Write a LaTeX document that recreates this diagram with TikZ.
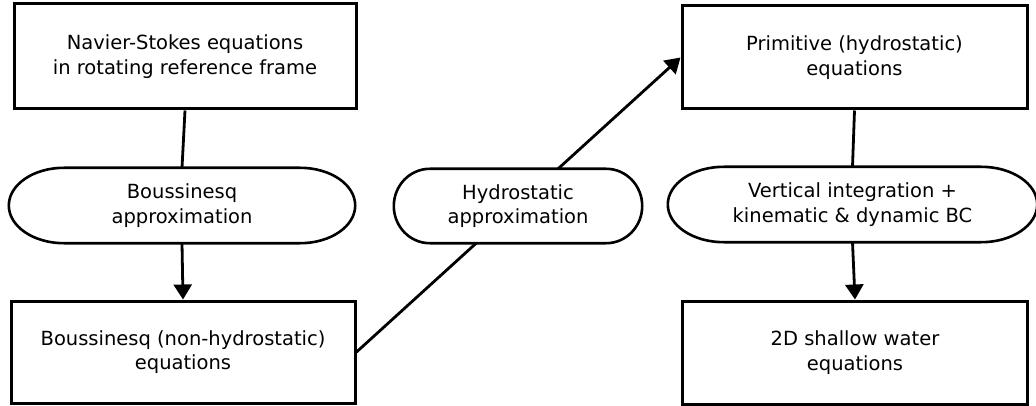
\documentclass[tikz,border=0pt]{standalone}
\usepackage{fontspec}
\setmainfont{DejaVu Sans}
\usetikzlibrary{arrows.meta,calc,backgrounds}

% Outline of a terminal (stadium) shape around a node, with elliptical ends
\newcommand\stadiumoutline[2]{% #1 node name, #2 horizontal radius of the ends
  \path[ovalline] let \p1=(#1.north west), \p2=(#1.south east), \n1={(\y1-\y2)/2} in
    (\x1+#2,\y1) -- (\x2-#2,\y1)
    arc[start angle=90,end angle=-90,x radius=#2,y radius=\n1]
    -- (\x1+#2,\y2)
    arc[start angle=270,end angle=90,x radius=#2,y radius=\n1] -- cycle;}

\tikzset{
  every node/.style={font=\fontsize{19.5}{24.5}\selectfont, align=center, inner sep=0pt},
  eqbox/.style={draw, line width=3pt, minimum width=#1, rectangle},
  eqbox/.default=344pt,
  ovaltext/.style={rectangle, draw=none},
  ovalline/.style={draw, fill=white, line width=2.6pt},
  link/.style={line width=2.8pt},
  arrowlink/.style={link, -{Triangle[length=15pt,width=18pt]}}
}

\begin{document}
\begin{tikzpicture}[x=1pt,y=-1pt]
  \useasboundingbox (0,0) rectangle (1036,406);

  % equation boxes
  \node[eqbox=342pt, minimum height=105pt] (ns) at (185,56.5)
    {Navier-Stokes equations\\in rotating reference frame};
  \node[eqbox=344pt, minimum height=102pt] (bq) at (183,352)
    {Boussinesq (non-hydrostatic)\\equations};
  \node[eqbox=345pt, minimum height=103pt] (pr) at (854.5,57.5)
    {Primitive (hydrostatic)\\equations};
  \node[eqbox=345pt, minimum height=103pt] (sw) at (855,352.5)
    {2D shallow water\\equations};

  % approximation steps
  \node[ovaltext, minimum width=346pt, minimum height=75pt] (ba) at (182,205.5)
    {Boussinesq\\approximation};
  \node[ovaltext, minimum width=248pt, minimum height=74pt] (ha) at (518,206)
    {Hydrostatic\\approximation};
  \node[ovaltext, minimum width=369pt, minimum height=75pt] (vi) at (852.5,204.5)
    {Vertical integration +\\kinematic \& dynamic BC};

  \begin{pgfonlayer}{background}
    \draw[arrowlink] (bq.east) -- (pr.west);
    \stadiumoutline{ba}{55pt}
    \stadiumoutline{ha}{36pt}
    \stadiumoutline{vi}{56pt}
  \end{pgfonlayer}

  % connectors
  \draw[link] (ns.south) -- (ba.north);
  \draw[arrowlink] (ba.south) -- (bq.north);
  \draw[link] (pr.south) -- (vi.north);
  \draw[arrowlink] (vi.south) -- (sw.north);
\end{tikzpicture}
\end{document}
